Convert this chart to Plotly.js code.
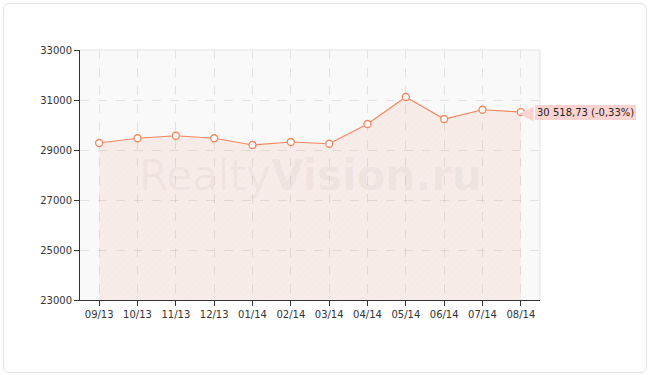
<!DOCTYPE html>
<html>
<head>
<meta charset="utf-8">
<script src="https://cdn.plot.ly/plotly-3.0.1.min.js"></script>
<style>
html,body{margin:0;padding:0;background:#fff;}
#wrap{position:relative;width:650px;height:375px;}
#frame{position:absolute;left:3px;top:3px;width:642px;height:368px;border:1px solid #e4e4e4;border-radius:6px;pointer-events:none;}
#chart{position:absolute;left:0;top:0;width:650px;height:375px;}
</style>
</head>
<body>
<div id="wrap"><div id="frame"></div><div id="chart"></div></div>
<script>
const months = ["09/13","10/13","11/13","12/13","01/14","02/14","03/14","04/14","05/14","06/14","07/14","08/14"];
const prices = [29280,29470,29570,29470,29200,29320,29250,30040,31120,30240,30610,30518.73];
const lastLabel = "30 518,73 (-0,33%)";
const yTicks = [23000,25000,27000,29000,31000,33000];

const xIdx = months.map((m,i)=>i);

const trace = {
  x: xIdx, y: prices, type: 'scatter', mode: 'lines+markers',
  line: {color: '#f5875e', width: 1.2},
  marker: {color: '#ffffff', size: 7, line: {color: '#f5875e', width: 1.3}},
  fill: 'tozeroy',
  fillcolor: 'rgba(240,120,90,0.11)',
  fillpattern: {shape: '/', size: 5, solidity: 0.12, fgcolor: 'rgba(240,120,90,0.06)', bgcolor: 'rgba(240,120,90,0.10)'},
  hoverinfo: 'none', cliponaxis: false
};

const n = months.length;
const layout = {
  width: 650, height: 375,
  margin: {l: 80, r: 110, t: 50, b: 75},
  paper_bgcolor: 'rgba(0,0,0,0)',
  plot_bgcolor: '#f9f9f9',
  showlegend: false,
  font: {family: 'DejaVu Sans, Verdana, sans-serif', size: 10, color: '#333'},
  xaxis: {
    range: [-0.5, n - 0.5],
    tickmode: 'array', tickvals: xIdx, ticktext: months,
    showline: true, linecolor: '#333', linewidth: 1,
    ticks: 'outside', ticklen: 5, tickcolor: '#333',
    showgrid: true, gridcolor: 'rgba(0,0,0,0.09)', griddash: 'dash', gridwidth: 1,
    zeroline: false, fixedrange: true
  },
  yaxis: {
    range: [23000, 33000],
    tickmode: 'array', tickvals: yTicks, ticktext: yTicks.map(String),
    showline: true, linecolor: '#333', linewidth: 1,
    ticks: 'outside', ticklen: 5, tickcolor: '#333',
    showgrid: true, gridcolor: 'rgba(0,0,0,0.09)', griddash: 'dash', gridwidth: 1,
    zeroline: false, fixedrange: true
  },
  shapes: [
    {type: 'line', xref: 'paper', yref: 'paper', x0: 0, x1: 1, y0: 1, y1: 1, line: {color: '#e2e2e2', width: 1}},
    {type: 'line', xref: 'paper', yref: 'paper', x0: 1, x1: 1, y0: 0, y1: 1, line: {color: '#e2e2e2', width: 1}}
  ],
  annotations: [
    {xref: 'paper', yref: 'paper', x: 0.5, y: 0.5, xanchor: 'center', yanchor: 'middle',
     text: 'Realty<b>Vision.ru</b>', showarrow: false,
     font: {family: 'DejaVu Sans, sans-serif', size: 42, color: 'rgba(0,0,0,0.045)'}},
    {x: n - 1, y: prices[n - 1], xref: 'x', yref: 'y', xanchor: 'right', yanchor: 'middle',
     xshift: 15.5, yshift: 0, text: '◀', showarrow: false,
     font: {size: 19, color: '#fdd3d1'}},
    {x: n - 1, y: prices[n - 1], xref: 'x', yref: 'y', xanchor: 'left', yanchor: 'middle',
     xshift: 14, text: lastLabel, showarrow: false,
     bgcolor: '#fdd3d1', borderpad: 2, bordercolor: '#fdd3d1', borderwidth: 0,
     font: {family: 'DejaVu Sans, Verdana, sans-serif', size: 10, color: '#222'}}
  ]
};

Plotly.newPlot('chart', [trace], layout, {displayModeBar: false, staticPlot: true});
</script>
</body>
</html>
